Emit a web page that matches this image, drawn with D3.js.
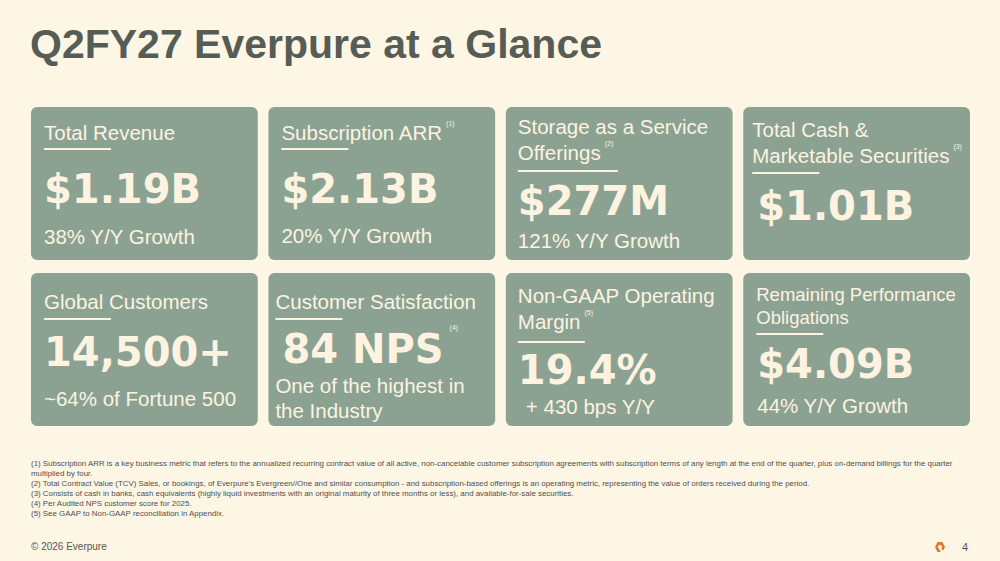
<!DOCTYPE html>
<html>
<head>
<meta charset="utf-8">
<script src="https://cdn.jsdelivr.net/npm/d3@7"></script>
<style>
  html, body { margin: 0; padding: 0; background: #FEF6E5; }
  svg { display: block; }
</style>
</head>
<body>
<svg id="slide" width="1000" height="561"></svg>
<script>
// data
var title = "Q2FY27 Everpure at a Glance";
var labels = [
  ["Total Revenue"], ["Subscription ARR"], ["Storage as a Service", "Offerings"], ["Total Cash &", "Marketable Securities"],
  ["Global Customers"], ["Customer Satisfaction"], ["Non-GAAP Operating", "Margin"], ["Remaining Performance", "Obligations"]
];
var values = ["$1.19B", "$2.13B", "$277M", "$1.01B", "14,500+", "84 NPS", "19.4%", "$4.09B"];
var details = [
  ["38% Y/Y Growth"], ["20% Y/Y Growth"], ["121% Y/Y Growth"], [],
  ["~64% of Fortune 500"], ["One of the highest in", "the Industry"], ["+ 430 bps Y/Y"], ["44% Y/Y Growth"]
];
var notes = [null, "(1)", "(2)", "(3)", null, "(4)", "(5)", null];
// where the note mark sits: end of label line or end of value
var noteOn = [null, "label", "label", "label", null, "value", "label", null];
var footnotes = [
  "(1) Subscription ARR is a key business metric that refers to the annualized recurring contract value of all active, non-cancelable customer subscription agreements with subscription terms of any length at the end of the quarter, plus on-demand billings for the quarter",
  "multiplied by four.",
  "(2) Total Contract Value (TCV) Sales, or bookings, of Everpure's Evergreen//One and similar consumption - and subscription-based offerings is an operating metric, representing the value of orders received during the period.",
  "(3) Consists of cash in banks, cash equivalents (highly liquid investments with an original maturity of three months or less), and available-for-sale securities.",
  "(4) Per Audited NPS customer score for 2025.",
  "(5) See GAAP to Non-GAAP reconciliation in Appendix."
];
var copyright = "\u00a9 2026 Everpure";
var pageNo = "4";

// layout inside each card (offsets from card top-left)
var lay = [
  {lx: 13, ly: [33], ul: 41, vx: 13, vy: 96, dx: 13, dy: [137], ls: 20.5},
  {lx: 13, ly: [33], ul: 41, vx: 13, vy: 96, dx: 13, dy: [136], ls: 20.5},
  {lx: 12, ly: [27, 53], ul: 63, vx: 12, vy: 108, dx: 12, dy: [141], ls: 20.5},
  {lx: 9, ly: [30, 56], ul: 65, vx: 14, vy: 113, dx: 14, dy: [], ls: 20.5},
  {lx: 13, ly: [36], ul: 45, vx: 13, vy: 93, dx: 13, dy: [133], ls: 20.5},
  {lx: 7, ly: [36], ul: 45, vx: 14, vy: 90, dx: 7, dy: [120, 145], ls: 20.5},
  {lx: 12, ly: [30, 56], ul: 68, vx: 12, vy: 111, dx: 20, dy: [141], ls: 20.5},
  {lx: 13, ly: [28, 51], ul: 60, vx: 14, vy: 105, dx: 14, dy: [140], ls: 18.5}
];

var bg = "#FEF6E5", cardFill = "#8BA293", ink = "#FDF3E0", titleInk = "#565C56", noteInk = "#4E4E4E";

var svg = d3.select("#slide");
svg.append("rect").attr("width", 1000).attr("height", 561).attr("fill", bg);

svg.append("text")
  .attr("x", 30).attr("y", 58)
  .attr("font-family", "Liberation Sans, Arial, sans-serif")
  .attr("font-weight", "bold").attr("font-size", 41)
  .attr("fill", titleInk)
  .text(title);

// grid of cards
var col = d3.scaleBand().domain([0, 1, 2, 3]).range([31, 970]).paddingInner(0.045);
var row = d3.scaleBand().domain([0, 1]).range([107, 426]).paddingInner(0.078);

var cards = svg.selectAll("g.card")
  .data(values.map(function(v, i) { return i; }))
  .enter().append("g")
  .attr("class", "card")
  .attr("transform", function(i) { return "translate(" + col(i % 4) + "," + row(Math.floor(i / 4)) + ")"; });

cards.append("rect")
  .attr("width", col.bandwidth())
  .attr("height", row.bandwidth())
  .attr("rx", 6).attr("ry", 6)
  .attr("fill", cardFill);

cards.each(function(i) {
  var g = d3.select(this), L = lay[i];
  var lineEnds = [];
  labels[i].forEach(function(t, k) {
    var el = g.append("text")
      .attr("x", L.lx).attr("y", L.ly[k])
      .attr("font-family", "Liberation Sans, Arial, sans-serif")
      .attr("font-size", L.ls)
      .attr("fill", ink)
      .text(t);
    lineEnds.push(L.lx + el.node().getComputedTextLength());
  });
  // short underline under the label
  g.append("rect")
    .attr("x", L.lx).attr("y", L.ul)
    .attr("width", i == 2 ? 100 : 67).attr("height", 2)
    .attr("fill", ink);

  var v = g.append("text")
    .attr("x", L.vx).attr("y", L.vy)
    .attr("font-family", "DejaVu Sans, sans-serif")
    .attr("font-weight", "bold").attr("font-size", 40)
    .attr("fill", ink)
    .text(values[i]);

  details[i].forEach(function(t, k) {
    g.append("text")
      .attr("x", L.dx).attr("y", L.dy[k])
      .attr("font-family", "Liberation Sans, Arial, sans-serif")
      .attr("font-size", 20.5)
      .attr("fill", ink)
      .text(t);
  });

  if (notes[i]) {
    var nx, ny;
    if (noteOn[i] == "value") {
      nx = L.vx + v.node().getComputedTextLength() + 6;
      ny = L.vy - 33;
    } else {
      var last = lineEnds.length - 1;
      nx = lineEnds[last] + 4;
      ny = L.ly[last] - 14;
    }
    g.append("text")
      .attr("x", nx).attr("y", ny)
      .attr("font-family", "Liberation Sans, Arial, sans-serif")
      .attr("font-size", 7)
      .attr("fill", ink)
      .text(notes[i]);
  }
});

// footnotes
svg.selectAll("text.fn")
  .data(footnotes)
  .enter().append("text")
  .attr("class", "fn")
  .attr("x", 31)
  .attr("y", function(d, i) { return 466 + i * 9.9; })
  .attr("font-family", "Liberation Sans, Arial, sans-serif")
  .attr("font-size", 7.9)
  .attr("fill", noteInk)
  .text(function(d) { return d; });

svg.append("text")
  .attr("x", 31).attr("y", 550)
  .attr("font-family", "Liberation Sans, Arial, sans-serif")
  .attr("font-size", 10)
  .attr("fill", "#555")
  .text(copyright);

// small orange logo mark
var logo = svg.append("g").attr("transform", "translate(940,547)");
logo.append("path")
  .attr("d", "M-2.5,-5 L2.5,-5 L5,0 L3,3.8 L1.2,1.5 L2.2,0 L1,-2 L-1,-2 L-2.2,0 L-0.6,2.6 L0.8,5 L-2.5,5 L-5,0 Z")
  .attr("fill", "#E8772E");

svg.append("text")
  .attr("x", 962).attr("y", 551)
  .attr("font-family", "Liberation Sans, Arial, sans-serif")
  .attr("font-size", 11)
  .attr("fill", "#555")
  .text(pageNo);
</script>
</body>
</html>
